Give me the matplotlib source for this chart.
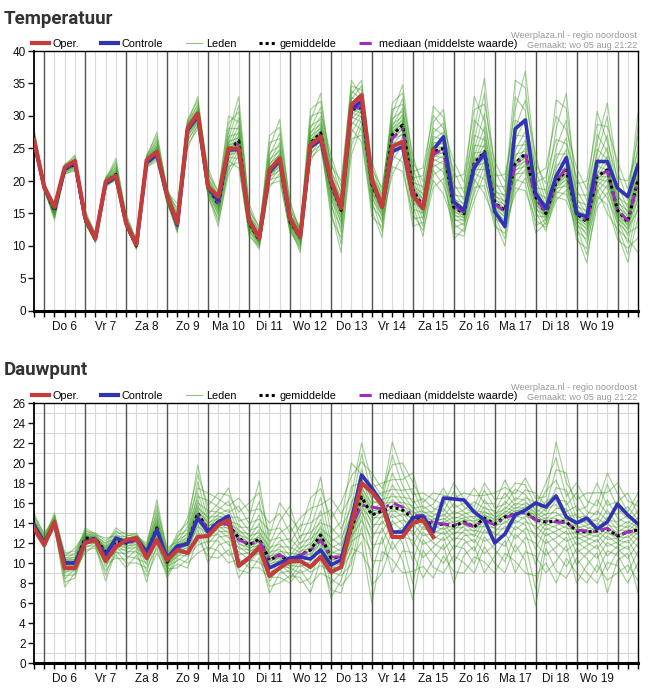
import matplotlib.pyplot as plt
import numpy as np
from matplotlib.lines import Line2D

plt.rcParams['font.family'] = ['Liberation Sans', 'DejaVu Sans']

# 6-hourly steps, starting wo 05 aug 18:00 (hours relative to do 06 aug 00:00)
hours = np.arange(-6, 349, 6)
day_labels = ['Do 6', 'Vr 7', 'Za 8', 'Zo 9', 'Ma 10', 'Di 11', 'Wo 12',
              'Do 13', 'Vr 14', 'Za 15', 'Zo 16', 'Ma 17', 'Di 18', 'Wo 19']

# --- Temperatuur ---
t_oper = [26.3, 19.1, 16.0, 22.1, 23.1, 14.3, 11.2, 19.9, 20.8, 13.5,
          10.2, 23.2, 24.5, 17.8, 13.5, 28.1, 30.4, 19.1, 17.6, 25.0,
          25.0, 14.0, 11.2, 21.7, 23.5, 14.3, 11.4, 25.5, 26.8, 20.2,
          15.8, 31.7, 33.2, 20.2, 16.0, 25.3, 26.0, 17.8, 15.8, 24.8]
t_ctrl = [26.0, 19.0, 15.8, 21.8, 22.8, 14.3, 11.2, 19.6, 20.6, 13.5,
          10.2, 22.8, 24.0, 17.8, 13.2, 27.8, 30.0, 19.0, 17.0, 24.8,
          24.8, 14.0, 11.2, 21.3, 23.2, 14.3, 11.4, 25.2, 26.3, 20.0,
          15.8, 31.0, 32.3, 20.2, 16.0, 24.5, 25.3, 17.8, 15.8, 24.8,
          26.8, 16.8, 15.5, 22.0, 24.3, 15.3, 13.0, 28.0, 29.4, 18.1,
          15.8, 20.7, 23.6, 15.0, 14.5, 23.0, 23.0, 18.9, 17.6, 22.5]
t_mean = [26.0, 19.0, 15.4, 21.8, 22.6, 14.0, 11.0, 19.8, 21.0, 13.2,
          10.0, 23.0, 24.6, 17.5, 13.3, 28.0, 30.0, 19.2, 16.4, 24.6,
          26.2, 13.6, 10.9, 21.5, 23.3, 13.8, 11.3, 25.8, 27.4, 19.5,
          15.5, 31.0, 31.3, 19.5, 16.0, 27.1, 28.6, 18.7, 16.0, 24.5,
          25.0, 16.0, 15.0, 22.7, 24.5, 16.6, 15.5, 22.7, 24.2, 17.6,
          15.0, 19.8, 21.7, 15.0, 13.7, 20.7, 21.7, 15.5, 13.7, 20.2]
t_med = [26.0, 19.0, 15.5, 21.8, 22.7, 14.1, 11.0, 19.8, 20.9, 13.3,
         10.0, 23.0, 24.5, 17.6, 13.3, 28.0, 30.0, 19.1, 16.6, 24.8,
         25.8, 13.8, 11.0, 21.5, 23.3, 13.9, 11.3, 25.7, 27.0, 19.6,
         15.6, 31.0, 31.5, 19.6, 16.0, 26.6, 28.0, 18.5, 16.0, 24.0,
         25.0, 16.2, 15.2, 22.5, 24.3, 16.5, 15.3, 22.5, 24.0, 17.4,
         15.2, 20.0, 22.0, 15.2, 13.8, 20.9, 21.5, 15.6, 13.9, 20.0]
t_lo = [25.5, 18.5, 14.0, 21.0, 21.5, 13.5, 10.5, 19.0, 20.0, 13.0,
        9.5, 22.0, 23.0, 16.5, 12.0, 25.0, 28.0, 17.5, 13.0, 21.0,
        22.0, 11.5, 9.5, 19.0, 20.0, 12.0, 9.0, 23.0, 25.0, 14.5,
        9.0, 24.0, 26.0, 14.5, 11.3, 21.0, 21.5, 13.0, 11.5, 19.0,
        18.0, 11.0, 11.5, 17.0, 18.0, 13.0, 10.0, 18.0, 18.5, 12.0,
        12.3, 17.0, 17.0, 10.9, 7.4, 16.0, 15.0, 11.0, 7.5, 9.0]
t_hi = [28.0, 19.8, 16.5, 22.6, 24.0, 15.5, 12.0, 20.6, 23.5, 15.0,
        11.0, 24.0, 27.5, 19.0, 16.5, 29.5, 33.0, 22.0, 18.5, 30.0,
        33.0, 16.5, 13.0, 27.0, 29.5, 17.0, 13.0, 31.0, 33.5, 24.0,
        20.0, 35.5, 35.5, 23.0, 19.0, 32.0, 34.8, 24.0, 22.0, 31.5,
        31.0, 23.0, 21.0, 33.0, 35.8, 23.0, 21.0, 35.5, 36.9, 24.0,
        22.0, 32.5, 33.5, 22.0, 20.0, 30.7, 32.0, 23.0, 20.0, 30.4]

# --- Dauwpunt ---
d_oper = [13.5, 11.8, 14.1, 9.5, 9.5, 12.0, 12.3, 10.2, 11.6, 12.3,
          12.5, 10.5, 12.3, 10.3, 11.3, 11.0, 12.6, 12.7, 13.8, 14.3,
          9.7, 10.5, 11.6, 8.7, 9.5, 10.2, 10.2, 9.6, 10.6, 9.1,
          9.6, 13.8, 18.0, 17.1, 15.8, 12.6, 12.6, 14.0, 14.3, 12.6]
d_ctrl = [13.8, 12.0, 14.0, 10.0, 10.0, 12.1, 12.3, 10.8, 12.5, 12.1,
          12.5, 11.1, 13.3, 10.5, 11.7, 11.9, 14.5, 13.1, 14.1, 14.7,
          9.8, 10.5, 11.5, 9.5, 10.0, 10.5, 10.6, 10.4, 11.3, 9.8,
          10.3, 14.3, 18.8, 17.5, 16.0, 13.1, 13.1, 14.5, 14.7, 13.1,
          16.5, 16.4, 16.3, 15.1, 14.3, 12.0, 12.9, 14.8, 15.3, 16.0,
          15.6, 16.7, 14.6, 14.0, 14.5, 13.4, 14.1, 15.9, 14.8, 13.9]
d_mean = [13.8, 12.0, 14.0, 10.0, 10.0, 12.5, 12.4, 11.1, 12.1, 12.0,
          12.3, 11.0, 13.5, 10.1, 11.5, 12.0, 15.0, 13.3, 14.1, 13.8,
          12.5, 11.8, 12.4, 10.3, 10.8, 10.1, 10.8, 11.3, 12.8, 10.5,
          10.6, 13.3, 16.6, 14.8, 15.2, 15.6, 15.3, 14.5, 14.3, 13.8,
          13.9, 13.7, 14.1, 13.6, 14.5, 13.9, 14.6, 14.9, 15.1, 14.3,
          14.1, 14.2, 14.1, 13.2, 13.1, 13.2, 13.4, 12.7, 13.1, 13.3]
d_med = [13.8, 12.0, 14.0, 10.0, 10.0, 12.4, 12.4, 11.0, 12.0, 12.0,
         12.3, 11.0, 13.4, 10.2, 11.5, 12.0, 14.8, 13.3, 14.1, 13.8,
         12.3, 11.9, 12.2, 10.4, 10.8, 10.3, 10.8, 11.2, 12.3, 10.6,
         10.6, 13.6, 15.8, 15.6, 15.4, 16.0, 15.6, 14.8, 14.7, 14.0,
         13.9, 13.8, 14.0, 13.6, 14.3, 13.8, 14.5, 14.9, 15.0, 14.3,
         14.2, 14.1, 14.0, 13.3, 13.2, 13.1, 13.5, 12.7, 13.1, 13.3]
d_lo = [13.0, 11.5, 13.5, 7.6, 8.5, 11.0, 11.5, 8.2, 10.5, 9.5,
        10.0, 8.1, 11.0, 8.5, 9.5, 9.5, 11.0, 10.0, 10.5, 10.0,
        8.5, 9.0, 9.5, 7.0, 8.0, 8.0, 8.0, 7.0, 9.0, 6.5,
        7.0, 9.0, 11.0, 6.0, 9.0, 9.0, 9.0, 6.3, 8.5, 8.5,
        9.0, 8.0, 9.0, 9.0, 9.0, 9.0, 9.0, 9.0, 9.0, 5.7,
        9.0, 8.0, 8.5, 8.0, 8.0, 8.0, 7.0, 9.0, 8.0, 7.0]
d_hi = [15.0, 13.0, 15.0, 11.0, 11.5, 13.5, 13.0, 12.5, 13.5, 13.0,
        13.0, 12.0, 16.3, 11.5, 13.0, 14.5, 19.8, 17.0, 17.0, 17.5,
        16.5, 16.0, 18.2, 14.0, 16.0, 15.7, 14.5, 16.5, 18.6, 16.5,
        16.0, 20.0, 22.0, 19.0, 18.0, 22.1, 20.0, 19.0, 17.0, 17.0,
        17.5, 18.0, 17.0, 17.5, 18.0, 17.0, 18.3, 18.0, 18.5, 17.0,
        18.0, 22.1, 19.0, 18.0, 17.0, 18.0, 19.0, 18.0, 17.0, 17.0]

# relative position of the ensemble members inside the spread (-1 = lowest, 1 = highest)
member_pos = [-1.0, -0.8, -0.65, -0.52, -0.42, -0.34, -0.27, -0.21, -0.16, -0.11,
              -0.07, -0.03, 0.0, 0.03, 0.07, 0.11, 0.16, 0.21, 0.27, 0.34,
              0.42, 0.52, 0.65, 0.8, 1.0]
# members swap places from step to step (cycled in this order)
member_order = [
    list(range(25)),
    [2, 0, 4, 1, 6, 3, 8, 5, 10, 7, 12, 9, 14, 11, 16, 13, 18, 15, 20, 17, 22, 19, 24, 21, 23],
    [1, 3, 0, 5, 2, 7, 4, 9, 6, 11, 8, 13, 10, 15, 12, 17, 14, 19, 16, 21, 18, 23, 20, 24, 22],
]

RED = '#c43c3c'
BLUE = '#3232b4'
GREEN = '#36991a'
PURPLE = '#a02cc0'


def draw_panel(ax, oper, ctrl, mean, med, lo, hi, ymax, ystep, yminor):
    mean_a = np.array(mean)
    up = np.array(hi) - mean_a
    down = mean_a - np.array(lo)
    for k in range(len(member_pos)):
        f = np.array([member_pos[member_order[i % 3][k]] for i in range(len(hours))])
        vals = mean_a + np.where(f >= 0, f * up, f * down)
        ax.plot(hours, vals, color=GREEN, lw=0.85, alpha=0.45, zorder=2)
    ax.plot(hours, mean, color='black', lw=2.2, ls=(0, (1, 1)), zorder=3)
    ax.plot(hours, med, color=PURPLE, lw=2.0, ls=(0, (4, 2, 1, 2)), zorder=3)
    ax.plot(hours, ctrl, color=BLUE, lw=2.6, zorder=4)
    ax.plot(hours[:len(oper)], oper, color=RED, lw=3.0, zorder=5)

    ax.set_xlim(-6, 348)
    ax.set_ylim(0, ymax)
    ax.set_yticks(np.arange(0, ymax + 1, ystep))
    ax.set_yticks(np.arange(0, ymax + 1, yminor), minor=True)
    ax.set_xticks(np.arange(12, 14 * 24, 24))
    ax.set_xticklabels(day_labels)
    ax.set_xticks(np.arange(-6, 349, 6), minor=True)
    ax.xaxis.remove_overlapping_locs = False
    ax.tick_params(axis='x', which='major', length=0, pad=7, labelsize=8.5, colors='#111')
    ax.tick_params(axis='x', which='minor', length=4, width=1, direction='out')
    ax.tick_params(axis='y', which='major', length=4, width=1, labelsize=8.5, pad=2, colors='#111')
    ax.tick_params(axis='y', which='minor', length=0)

    ax.grid(True, which='minor', color='#d9d9d9', lw=0.8, zorder=0)
    for d in range(0, 15 * 24, 24):
        ax.axvline(d, color='#555555', lw=1.0, zorder=1)

    for s in ['top', 'right']:
        ax.spines[s].set_linewidth(1.0)
    ax.spines['left'].set_linewidth(1.3)
    ax.spines['bottom'].set_linewidth(2.2)
    ax.set_axisbelow(True)


W, H = 657, 693
fig = plt.figure(figsize=(W / 100, H / 100), dpi=100)
ax1 = fig.add_axes([34 / W, 1 - 311 / H, 604 / W, 260 / H])
ax2 = fig.add_axes([34 / W, 1 - 663 / H, 604 / W, 260 / H])

draw_panel(ax1, t_oper, t_ctrl, t_mean, t_med, t_lo, t_hi, 40, 5, 5)
draw_panel(ax2, d_oper, d_ctrl, d_mean, d_med, d_lo, d_hi, 26, 2, 1)

handles = [Line2D([], [], color=RED, lw=3.0),
           Line2D([], [], color=BLUE, lw=3.0),
           Line2D([], [], color='#8cc47c', lw=0.8),
           Line2D([], [], color='black', lw=2.2, ls=(0, (1, 1))),
           Line2D([], [], color=PURPLE, lw=2.2, ls=(0, (4, 2, 1, 2)))]
names = ['Oper.', 'Controle', 'Leden', 'gemiddelde', 'mediaan (middelste waarde)']

for title, top in [('Temperatuur', 0), ('Dauwpunt', 352)]:
    fig.text(4 / W, 1 - (23.5 + top) / H, title, fontsize=13.5, fontweight='bold',
             family=['Roboto', 'DejaVu Sans'], color='#333333', va='baseline')
    fig.legend(handles, names, loc='center left',
               bbox_to_anchor=(32 / W, 1 - (44 + top) / H), ncol=5, frameon=False,
               fontsize=7.8, handlelength=1.55, handletextpad=0.3, columnspacing=2.1,
               borderpad=0, borderaxespad=0)
    fig.text(637 / W, 1 - (37.5 + top) / H, 'Weerplaza.nl - regio noordoost',
             fontsize=6.6, color='#999999', ha='right', va='baseline')
    fig.text(637 / W, 1 - (47.5 + top) / H, 'Gemaakt: wo 05 aug 21:22',
             fontsize=6.6, color='#999999', ha='right', va='baseline')

fig.savefig('out.png', dpi=100)
